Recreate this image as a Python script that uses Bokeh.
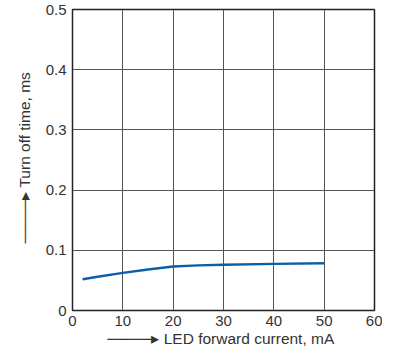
from bokeh.plotting import figure
from bokeh.models import Range1d, FixedTicker, Title
from bokeh.embed import file_html
from bokeh.resources import INLINE

# Data
current_ma = [2, 5, 10, 15, 20, 25, 30, 40, 50]
turn_off_ms = [0.052, 0.056, 0.0625, 0.068, 0.0730, 0.0750, 0.0760, 0.0775, 0.0785]
x_ticks = [0, 10, 20, 30, 40, 50, 60]
y_ticks = [0, 0.1, 0.2, 0.3, 0.4, 0.5]
y_tick_labels = {0: "0", 0.1: "0.1", 0.2: "0.2", 0.3: "0.3", 0.4: "0.4", 0.5: "0.5"}
x_title = "LED forward current, mA"
y_title = "Turn off time, ms"
ARROW = "\u2500\u2500\u2500\u2500\u25b8 "

FONT = "Liberation Sans"
TXT = "#333333"
INK = "#222222"

p = figure(width=382, height=354, output_backend="svg", toolbar_location=None,
           x_range=Range1d(0, 60), y_range=Range1d(0, 0.5),
           min_border_left=72, min_border_right=8, min_border_top=9, min_border_bottom=44)
p.background_fill_color = "white"
p.border_fill_color = "white"
p.outline_line_color = INK
p.outline_line_width = 1.5

for ax in (p.xaxis, p.yaxis):
    ax.axis_line_color = None
    ax.major_tick_line_color = None
    ax.minor_tick_line_color = None
    ax.major_tick_out = 0
    ax.major_tick_in = 0
    ax.minor_tick_out = 0
    ax.major_label_text_font = FONT
    ax.major_label_text_font_size = "15px"
    ax.major_label_text_color = TXT
p.xaxis.major_label_standoff = 5
p.yaxis.major_label_standoff = 6

p.xaxis.ticker = FixedTicker(ticks=x_ticks)
p.yaxis.ticker = FixedTicker(ticks=y_ticks)
p.yaxis.major_label_overrides = y_tick_labels

p.xgrid.ticker = FixedTicker(ticks=x_ticks)
p.ygrid.ticker = FixedTicker(ticks=y_ticks)
for g in (p.xgrid, p.ygrid):
    g.grid_line_color = "#555555"
    g.grid_line_width = 1
    g.grid_line_alpha = 1

p.line(current_ma, turn_off_ms, line_color="#0b5fa8", line_width=2.4)

# Axis titles, each led by an arrow
p.add_layout(Title(text=ARROW + x_title, align="left", offset=35,
                   text_font=FONT, text_font_size="15.5px", text_color=TXT,
                   text_font_style="normal", standoff=-1), "below")
p.add_layout(Title(text=ARROW + y_title, align="left", offset=67,
                   text_font=FONT, text_font_size="15.5px", text_color=TXT,
                   text_font_style="normal", standoff=20), "left")

open("out.html", "w").write(file_html(p, INLINE))
